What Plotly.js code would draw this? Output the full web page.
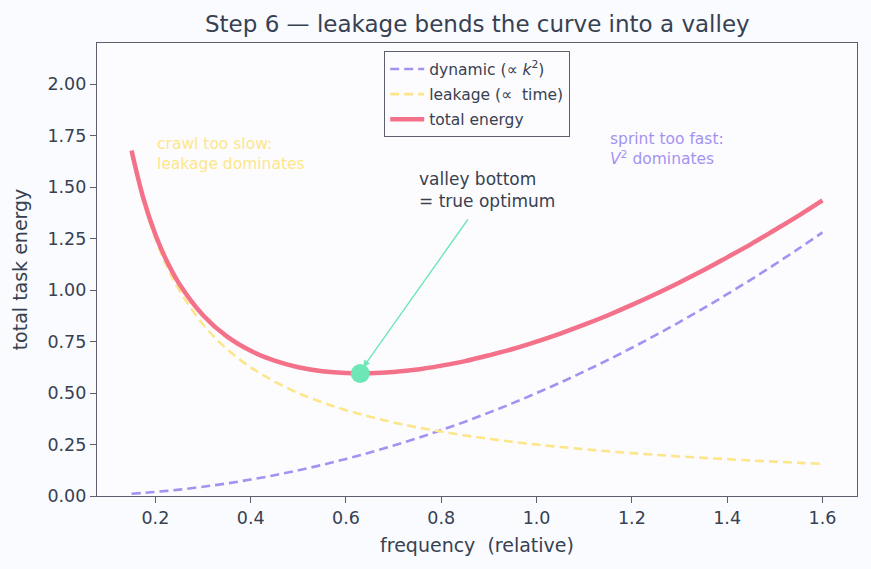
<!DOCTYPE html>
<html>
<head>
<meta charset="utf-8">
<script src="https://cdn.plot.ly/plotly-3.0.1.min.js"></script>
<style>
html,body{margin:0;padding:0;background:#fafbfe;}
#chart{width:871px;height:569px;}
</style>
</head>
<body>
<div id="chart"></div>
<script>
// frequency (relative)
const freq = [0.15,0.175,0.20,0.225,0.25,0.30,0.35,0.40,0.45,0.50,0.55,0.60,0.65,0.70,0.75,0.80,0.85,0.90,0.95,1.00,1.05,1.10,1.15,1.20,1.25,1.30,1.35,1.40,1.45,1.50,1.55,1.60];
// dynamic energy (∝ k^2)
const dynamicE = [0.011,0.015,0.020,0.025,0.031,0.045,0.061,0.080,0.101,0.125,0.151,0.180,0.211,0.245,0.281,0.320,0.361,0.405,0.451,0.500,0.551,0.605,0.661,0.720,0.781,0.845,0.911,0.980,1.051,1.125,1.201,1.280];
// leakage energy (∝ time)
const leakageE = [1.667,1.429,1.250,1.111,1.000,0.833,0.714,0.625,0.556,0.500,0.455,0.417,0.385,0.357,0.333,0.313,0.294,0.278,0.263,0.250,0.238,0.227,0.217,0.208,0.200,0.192,0.185,0.179,0.172,0.167,0.161,0.156];
// total energy
const totalE = [1.678,1.444,1.270,1.136,1.031,0.878,0.775,0.705,0.657,0.625,0.606,0.597,0.596,0.602,0.614,0.633,0.655,0.683,0.714,0.750,0.789,0.832,0.878,0.928,0.981,1.037,1.096,1.159,1.223,1.292,1.362,1.436];
// optimum point
const optX = [0.63];
const optY = [0.595];

const textCol = '#374151';
const axisCol = '#5b5f6e';
const purple = '#a393f0';
const yellow = '#fde68a';
const rose = '#f4718a';
const green = '#6ee7b7';
const font = 'DejaVu Sans, sans-serif';

const traces = [
  {x: freq, y: dynamicE, mode: 'lines', name: 'dynamic (\u221d <i>k</i><sup>2</sup>)', legendgroup: 'a',
   line: {color: purple, width: 2.6, dash: '9px,5px', shape: 'spline'}},
  {x: freq, y: leakageE, mode: 'lines', name: 'leakage (\u221d  time)', legendgroup: 'b',
   line: {color: yellow, width: 2.6, dash: '9px,5px', shape: 'spline'}},
  {x: freq, y: totalE, mode: 'lines', name: 'total energy', legendgroup: 'c',
   line: {color: rose, width: 4.5, shape: 'spline'}},
  {x: optX, y: optY, mode: 'markers', showlegend: false,
   marker: {color: green, size: 19}}
];

const layout = {
  width: 871, height: 569,
  paper_bgcolor: '#fafbfe',
  plot_bgcolor: '#fcfcff',
  margin: {l: 97, r: 14, t: 43, b: 73},
  font: {family: font, color: textCol},
  title: {text: 'Step 6 \u2014 leakage bends the curve into a valley',
          font: {size: 23, color: textCol, family: font},
          x: 0.548, xanchor: 'center', y: 0.958, yanchor: 'middle'},
  xaxis: {range: [0.0775, 1.6725], tickvals: [0.2,0.4,0.6,0.8,1.0,1.2,1.4,1.6],
          ticktext: ['0.2','0.4','0.6','0.8','1.0','1.2','1.4','1.6'],
          ticks: 'outside', ticklen: 6, tickwidth: 1.3, tickcolor: axisCol,
          showgrid: false, zeroline: false, showline: true, linecolor: axisCol, linewidth: 1.3, mirror: true,
          tickfont: {size: 17.5, color: textCol},
          title: {text: 'frequency  (relative)', font: {size: 19, color: textCol}, standoff: 11}},
  yaxis: {range: [0, 2.2], tickvals: [0,0.25,0.5,0.75,1.0,1.25,1.5,1.75,2.0],
          ticktext: ['0.00','0.25','0.50','0.75','1.00','1.25','1.50','1.75','2.00'],
          ticks: 'outside', ticklen: 6, tickwidth: 1.3, tickcolor: axisCol,
          showgrid: false, zeroline: false, showline: true, linecolor: axisCol, linewidth: 1.3, mirror: true,
          tickfont: {size: 17.5, color: textCol},
          title: {text: 'total task energy', font: {size: 19, color: textCol}, standoff: 14}},
  legend: {x: 0.5, xanchor: 'center', y: 0.982, yanchor: 'top',
           bgcolor: 'rgba(252,252,255,0.9)', bordercolor: axisCol, borderwidth: 1.2,
           font: {size: 15.5, color: textCol}, tracegroupgap: 2, itemwidth: 34},
  annotations: [
    {x: 0.2, y: 1.765, xref: 'x', yref: 'y', xanchor: 'left', yanchor: 'top', align: 'left',
     text: 'crawl too slow:<br>leakage dominates', showarrow: false,
     font: {size: 15.5, color: yellow}},
    {x: 1.15, y: 1.785, xref: 'x', yref: 'y', xanchor: 'left', yanchor: 'top', align: 'left',
     text: 'sprint too fast:<br><i>V</i><sup>2</sup> dominates', showarrow: false,
     font: {size: 15.5, color: purple}},
    {x: 0.75, y: 1.375, xref: 'x', yref: 'y', xanchor: 'left', yanchor: 'bottom', align: 'left',
     text: 'valley bottom<br>= true optimum', showarrow: false,
     font: {size: 17, color: textCol}},
    {x: 0.636, y: 0.625, ax: 0.858, ay: 1.35, xref: 'x', yref: 'y', axref: 'x', ayref: 'y',
     text: '', showarrow: true, arrowhead: 2, arrowsize: 1, arrowwidth: 1.4, arrowcolor: green}
  ]
};

Plotly.newPlot('chart', traces, layout, {displayModeBar: false});
</script>
</body>
</html>
